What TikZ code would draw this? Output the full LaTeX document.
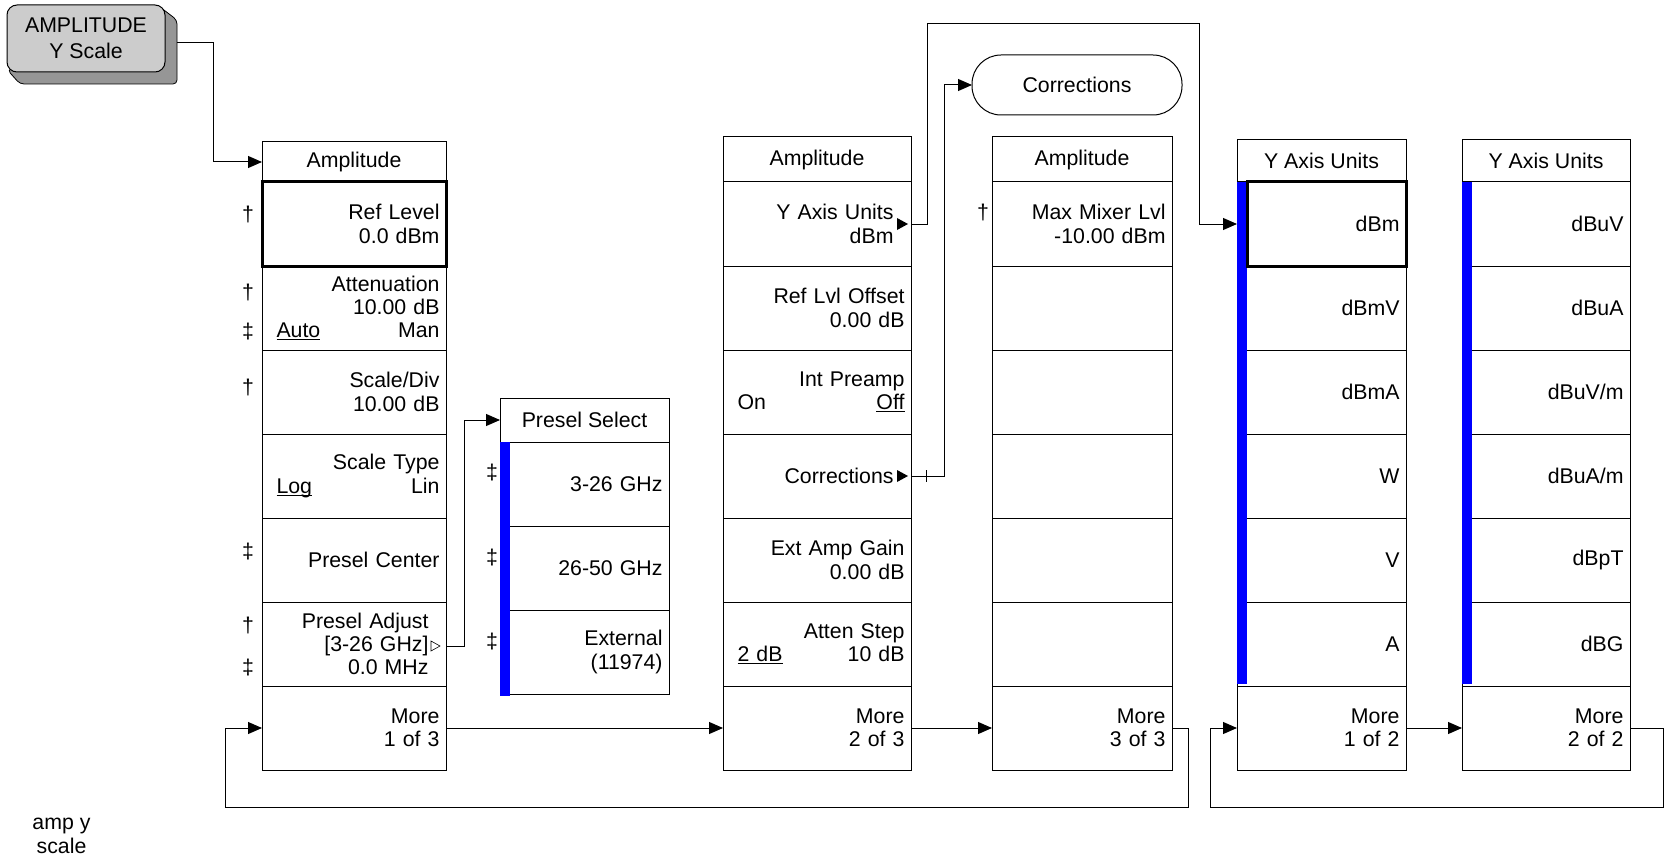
\documentclass[tikz,border=0pt]{standalone}
\usepackage{fontspec}
\setmainfont{Liberation Sans}
\usetikzlibrary{positioning, arrows.meta}

\definecolor{keyblue}{RGB}{0,0,255}
\definecolor{btnface}{RGB}{204,204,204}
\definecolor{btnside}{RGB}{150,150,150}

\newcommand{\pad}{\hbox to 11pt{}}
\newcommand{\lft}[1]{\hspace*{8pt}#1\hfill}
\newcommand{\uln}[1]{\sbox0{#1}\rlap{\rule[-2.5pt]{\wd0}{1pt}}\usebox0}

\begin{document}
\begin{tikzpicture}[x=1pt, y=-1pt,
    every node/.style={font=\fontsize{21.3}{23.3}\selectfont, inner sep=0pt, outer sep=0pt},
    menuhead/.style={draw, line width=1pt, minimum width=#1},
    softkey/.style={draw, line width=1pt, align=right, minimum height=84pt, inner xsep=6.5pt, text width=#1},
    selkey/.style={line width=3pt},
    arr/.style={line width=1pt, -{Triangle[length=14pt, width=12pt]}},
    wire/.style={line width=1pt}]

    \useasboundingbox (0,0) rectangle (1664,861);

    % HARDKEY: AMPLITUDE Y Scale
    \draw[fill=btnside, line width=0.8pt, rounded corners=4pt] (158,5.5) -- (177,20) -- (177,84) -- (20,84) -- (7.5,70) -- cycle;
    \node[draw, line width=1pt, fill=btnface, rounded corners=10pt, minimum width=158pt, minimum height=67pt, align=center, font=\fontsize{21.3}{25.6}\selectfont] (btn) at (86,38.5) {AMPLITUDE\\Y Scale};
    \coordinate (btnout) at (177,43);

    % PAGE 1 of 3
    \node[menuhead=184pt, minimum height=40pt] (m1h) at (354,162) {Amplitude};
    \node[softkey=171pt, selkey, below=0pt of m1h] (m1k1) {Ref Level\\0.0 dBm};
    \node[softkey=171pt, below=0pt of m1k1] (m1k2) {Attenuation\\10.00 dB\\\lft{\uln{Auto}}Man};
    \node[softkey=171pt, below=0pt of m1k2] (m1k3) {Scale/Div\\10.00 dB};
    \node[softkey=171pt, below=0pt of m1k3] (m1k4) {Scale Type\\\lft{\uln{Log}}Lin};
    \node[softkey=171pt, below=0pt of m1k4] (m1k5) {Presel Center};
    \node[softkey=171pt, below=0pt of m1k5] (m1k6) {Presel Adjust\pad\\{}[3-26 GHz]\pad\\0.0 MHz\pad};
    \node[softkey=171pt, below=0pt of m1k6] (m1k7) {More\\1 of 3};
    % daggers
    \node (dg1) at (248,215) {†};
    \node (dg2) at (248,292) {†};
    \node (dg3) at (248,332) {‡};
    \node (dg4) at (248,387) {†};
    \node (dg5) at (248,552) {‡};
    \node (dg6) at (248,625) {†};
    \node (dg7) at (248,668) {‡};

    % Presel Select submenu
    \node[menuhead=169pt, minimum height=44pt] (psh) at (584.5,420) {Presel Select};
    \node[softkey=156pt, below=0pt of psh] (ps1) {3-26 GHz};
    \node[softkey=156pt, below=0pt of ps1] (ps2) {26-50 GHz};
    \node[softkey=156pt, below=0pt of ps2] (ps3) {External\\(11974)};
    \fill[keyblue] (ps1.north west) rectangle ([xshift=10pt,yshift=-2pt]ps3.south west);
    \node (dg8) at (492,473) {‡};
    \node (dg9) at (492,558) {‡};
    \node (dg10) at (492,642) {‡};

    % PAGE 2 of 3
    \node[menuhead=188pt, minimum height=45pt] (m2h) at (817,159.5) {Amplitude};
    \node[softkey=175pt, below=0pt of m2h] (m2k1) {Y Axis Units\pad\\dBm\pad};
    \node[softkey=175pt, below=0pt of m2k1] (m2k2) {Ref Lvl Offset\\0.00 dB};
    \node[softkey=175pt, below=0pt of m2k2] (m2k3) {Int Preamp\\\lft{On}\uln{Off}};
    \node[softkey=175pt, below=0pt of m2k3] (m2k4) {Corrections\pad};
    \node[softkey=175pt, below=0pt of m2k4] (m2k5) {Ext Amp Gain\\0.00 dB};
    \node[softkey=175pt, below=0pt of m2k5] (m2k6) {Atten Step\\\lft{\uln{2 dB}}10 dB};
    \node[softkey=175pt, below=0pt of m2k6] (m2k7) {More\\2 of 3};
    % submenu pointers
    \fill ([xshift=-3pt]m2k1.east) -- ++(-11pt,6pt) -- ++(0,-12pt) -- cycle;
    \fill ([xshift=-3pt]m2k4.east) -- ++(-11pt,6pt) -- ++(0,-12pt) -- cycle;
    \draw[line width=0.6pt] ([xshift=-6pt,yshift=-2pt]m1k6.east) -- ++(-9pt,5pt) -- ++(0,-10pt) -- cycle;

    % Corrections
    \node[draw, line width=1pt, rounded corners=29pt, minimum width=210pt, minimum height=60pt] (corr) at (1077,85) {Corrections};

    % PAGE 3 of 3
    \node[menuhead=180pt, minimum height=45pt] (m3h) at (1082,159.5) {Amplitude};
    \node[softkey=167pt, below=0pt of m3h] (m3k1) {Max Mixer Lvl\\-10.00 dBm};
    \node[softkey=167pt, below=0pt of m3k1] (m3k2) {};
    \node[softkey=167pt, below=0pt of m3k2] (m3k3) {};
    \node[softkey=167pt, below=0pt of m3k3] (m3k4) {};
    \node[softkey=167pt, below=0pt of m3k4] (m3k5) {};
    \node[softkey=167pt, below=0pt of m3k5] (m3k6) {};
    \node[softkey=167pt, below=0pt of m3k6] (m3k7) {More\\3 of 3};
    \node (dg11) at (983,213) {†};

    % Y AXIS UNITS 1 of 2
    \node[menuhead=169pt, minimum height=42pt] (y1h) at (1321.5,161) {Y Axis Units};
    \node[softkey=156pt, below=0pt of y1h] (y1k1) {dBm};
    \node[softkey=156pt, below=0pt of y1k1] (y1k2) {dBmV};
    \node[softkey=156pt, below=0pt of y1k2] (y1k3) {dBmA};
    \node[softkey=156pt, below=0pt of y1k3] (y1k4) {W};
    \node[softkey=156pt, below=0pt of y1k4] (y1k5) {V};
    \node[softkey=156pt, below=0pt of y1k5] (y1k6) {A};
    \node[softkey=156pt, below=0pt of y1k6] (y1k7) {More\\1 of 2};
    \fill[keyblue] (y1k1.north west) rectangle ([xshift=10pt,yshift=2pt]y1k6.south west);
    \draw[line width=3pt] ([xshift=10pt]y1k1.north west) rectangle (y1k1.south east);

    % Y AXIS UNITS 2 of 2
    \node[menuhead=168pt, minimum height=42pt] (y2h) at (1546,161) {Y Axis Units};
    \node[softkey=155pt, below=0pt of y2h] (y2k1) {dBuV};
    \node[softkey=155pt, below=0pt of y2k1] (y2k2) {dBuA};
    \node[softkey=155pt, below=0pt of y2k2] (y2k3) {dBuV/m};
    \node[softkey=155pt, below=0pt of y2k3] (y2k4) {dBuA/m};
    \node[softkey=155pt, below=0pt of y2k4] (y2k5) {dBpT};
    \node[softkey=155pt, below=0pt of y2k5] (y2k6) {dBG};
    \node[softkey=155pt, below=0pt of y2k6] (y2k7) {More\\2 of 2};
    \fill[keyblue] (y2k1.north west) rectangle ([xshift=10pt,yshift=2pt]y2k6.south west);

    % Connectors
    \draw[arr] (btnout) -- ++(36,0) |- (m1h.west);
    \draw[arr] ([yshift=-2pt]m1k6.east) -- ++(18,0) |- (psh.west);
    \draw[arr] (m1k7.east) -- (m2k7.west);
    \draw[arr] (m2k7.east) -- (m3k7.west);
    \draw[arr] (m3k7.east) -- ++(16,0) -- ++(0,79) -| ([xshift=-37pt]m1k7.west) -- (m1k7.west);
    \draw[arr] (m2k1.east) -- ++(16,0) -- ++(0,-200) -| ([xshift=-38pt]y1k1.west) -- (y1k1.west);
    \draw[arr] (m2k4.east) -- ++(33,0) |- (corr.west);
    \draw[wire] ([xshift=15pt]m2k4.east) ++(0,-6) -- ++(0,12);
    \draw[arr] (y1k7.east) -- (y2k7.west);
    \draw[arr] (y2k7.east) -- ++(33,0) -- ++(0,79) -| ([xshift=-27pt]y1k7.west) -- (y1k7.west);

    % caption
    \node[align=center] (cap) at (61.5,836) {amp y\\scale};
\end{tikzpicture}
\end{document}
